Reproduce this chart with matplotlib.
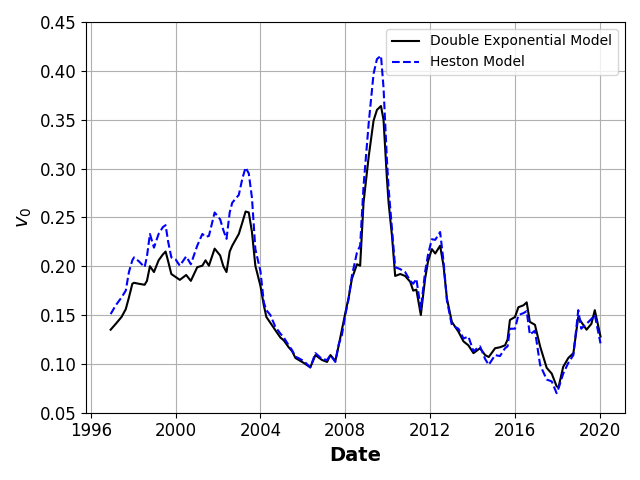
#!/usr/bin/env python3
"""
Plot estimated initial variance v0 over time for two models.
Output: out.png
"""

import pandas as pd
import matplotlib.pyplot as plt
import matplotlib.dates as mdates

# =====================================
# Data
# =====================================
# decimal years
YEARS = [
    1996.94, 1997.18, 1997.45, 1997.65, 1997.80, 1997.96, 1998.04, 1998.27,
    1998.54, 1998.65, 1998.79, 1998.98, 1999.20, 1999.40, 1999.53, 1999.65,
    1999.80, 2000.00, 2000.20, 2000.50, 2000.72, 2001.02, 2001.26, 2001.41,
    2001.57, 2001.84, 2002.10, 2002.25, 2002.40, 2002.55, 2002.67, 2002.98,
    2003.15, 2003.30, 2003.45, 2003.60, 2003.76, 2004.00, 2004.16, 2004.28,
    2004.47, 2004.70, 2004.94, 2005.10, 2005.33, 2005.49, 2005.65, 2006.04,
    2006.35, 2006.59, 2006.90, 2007.14, 2007.30, 2007.53, 2007.69, 2007.84,
    2008.00, 2008.16, 2008.31, 2008.55, 2008.70, 2008.86, 2009.10, 2009.33,
    2009.49, 2009.68, 2009.80, 2009.96, 2010.04, 2010.20, 2010.35, 2010.59,
    2010.82, 2011.06, 2011.20, 2011.35, 2011.56, 2011.76, 2011.90, 2012.08,
    2012.24, 2012.47, 2012.63, 2012.79, 2013.02, 2013.33, 2013.57, 2013.80,
    2014.04, 2014.35, 2014.59, 2014.76, 2015.06, 2015.29, 2015.53, 2015.65,
    2015.76, 2016.00, 2016.16, 2016.40, 2016.55, 2016.70, 2016.94, 2017.18,
    2017.49, 2017.73, 2017.96, 2018.05, 2018.27, 2018.51, 2018.75, 2018.98,
    2019.12, 2019.37, 2019.60, 2019.76, 2020.03,
]

V0_DOUBLE_EXP = [
    0.135, 0.141, 0.148, 0.156, 0.168, 0.182, 0.183, 0.182,
    0.181, 0.185, 0.200, 0.194, 0.206, 0.212, 0.215, 0.205,
    0.192, 0.189, 0.186, 0.191, 0.185, 0.199, 0.2005, 0.206,
    0.2005, 0.218, 0.211, 0.200, 0.194, 0.215, 0.221, 0.233,
    0.245, 0.256, 0.255, 0.235, 0.2005, 0.180, 0.160, 0.148,
    0.142, 0.1346, 0.127, 0.124, 0.117, 0.113, 0.106, 0.101,
    0.0964, 0.109, 0.104, 0.102, 0.109, 0.103, 0.119, 0.135,
    0.152, 0.168, 0.187, 0.202, 0.2005, 0.265, 0.312, 0.349,
    0.360, 0.364, 0.350, 0.290, 0.265, 0.231, 0.190, 0.192,
    0.190, 0.184, 0.175, 0.176, 0.150, 0.187, 0.205, 0.2175,
    0.213, 0.221, 0.2005, 0.167, 0.143, 0.133, 0.123, 0.119,
    0.111, 0.116, 0.109, 0.107, 0.116, 0.117, 0.119, 0.125,
    0.145, 0.148, 0.158, 0.160, 0.163, 0.143, 0.140, 0.118,
    0.096, 0.090, 0.077, 0.076, 0.097, 0.106, 0.111, 0.148,
    0.143, 0.135, 0.141, 0.155, 0.128,
]

V0_HESTON = [
    0.151, 0.160, 0.168, 0.175, 0.194, 0.206, 0.209, 0.205,
    0.199, 0.210, 0.233, 0.219, 0.233, 0.240, 0.242, 0.225,
    0.209, 0.207, 0.2005, 0.210, 0.202, 0.221, 0.233, 0.230,
    0.231, 0.255, 0.248, 0.237, 0.228, 0.255, 0.265, 0.273,
    0.290, 0.301, 0.295, 0.270, 0.2175, 0.195, 0.163, 0.155,
    0.150, 0.138, 0.131, 0.127, 0.119, 0.114, 0.1075, 0.103,
    0.0964, 0.111, 0.105, 0.104, 0.109, 0.102, 0.120, 0.1295,
    0.150, 0.167, 0.190, 0.214, 0.221, 0.282, 0.346, 0.397,
    0.412, 0.4155, 0.383, 0.309, 0.280, 0.238, 0.199, 0.197,
    0.194, 0.185, 0.182, 0.187, 0.156, 0.194, 0.212, 0.2276,
    0.227, 0.235, 0.205, 0.165, 0.1396, 0.136, 0.126, 0.128,
    0.113, 0.118, 0.105, 0.099, 0.109, 0.108, 0.116, 0.118,
    0.136, 0.136, 0.150, 0.152, 0.154, 0.130, 0.134, 0.099,
    0.084, 0.082, 0.070, 0.075, 0.090, 0.101, 0.109, 0.155,
    0.136, 0.141, 0.146, 0.150, 0.121,
]


def to_dates(years):
    """Convert decimal years to timestamps"""
    out = []
    for y in years:
        base = pd.Timestamp(int(y), 1, 1)
        out.append(base + pd.Timedelta(days=(y - int(y)) * 365.25))
    return out


dates = to_dates(YEARS)

plt.figure(figsize=(6.4, 4.8), dpi=100)

plt.plot(dates, V0_DOUBLE_EXP, color='black', linestyle='-',
         linewidth=1.5, label='Double Exponential Model')
plt.plot(dates, V0_HESTON, color='blue', linestyle='--',
         linewidth=1.5, label='Heston Model')

ax = plt.gca()
ax.xaxis.set_major_locator(mdates.YearLocator(4))
ax.xaxis.set_major_formatter(mdates.DateFormatter('%Y'))

plt.ylim(0.05, 0.45)
plt.xticks(fontsize=12)
plt.yticks(fontsize=12)
plt.xlabel('Date', fontsize=14, fontweight='bold')
plt.ylabel('$v_0$', fontsize=14)
plt.legend(loc='upper right', fontsize=10)
plt.grid(True)

plt.tight_layout()
plt.savefig('out.png', dpi=100)
plt.close()
